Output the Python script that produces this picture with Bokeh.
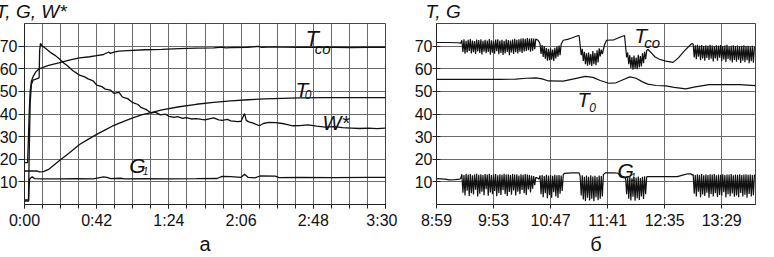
import numpy as np
from bokeh.plotting import figure
from bokeh.layouts import row
from bokeh.models import FixedTicker, Label, Range1d
from bokeh.embed import file_html
from bokeh.resources import INLINE

FONT = "Liberation Sans"
INK = "#111111"
GRID = "#6a6a6a"

# ---------------- panel a (time in minutes from 0:00) ----------------
xa_ticks = [0, 42, 84, 126, 168, 210]
xa_labels = ["0:00", "0:42", "1:24", "2:06", "2:48", "3:30"]
xa_minor = [0, 10.5, 21, 31.5, 42, 52.5, 63, 73.5, 84, 94.5, 105, 115.5, 126,
            136.5, 147, 157.5, 168, 178.5, 189, 199.5, 210]
y_ticks = [10, 20, 30, 40, 50, 60, 70]

tco_a_t = [0, 1.8, 2.3, 2.8, 3.3, 4.0, 5.0, 6.5, 8, 10, 14, 20, 26, 32, 38, 42, 46, 49, 50, 52,
           55, 60, 70, 80, 90, 100, 110, 115, 117, 120, 130, 136, 138, 145, 150, 160, 170, 180,
           190, 200, 210]
tco_a_v = [18.5, 18.5, 30, 42, 50, 54.5, 56.5, 58.5, 59.7, 60.4, 61.5, 62.6, 63.8, 64.8, 65.3,
           65.8, 66.3, 67.4, 66.8, 67.3, 67.8, 68.0, 68.4, 68.6, 68.9, 69.1, 69.2, 69.6, 69.2,
           69.3, 69.5, 69.9, 69.5, 69.7, 69.6, 69.5, 69.5, 69.5, 69.4, 69.5, 69.5]

w_a_t = [0, 2.3, 2.8, 3.3, 4.0, 5.0, 7.0, 8.5, 8.8, 9.3, 10, 12, 15.5, 18, 20, 23, 25, 28, 32, 35,
         37, 40, 42, 45, 47, 50, 52, 55, 57, 60, 63, 66, 68, 71, 73.6, 76, 79, 82, 84, 87, 89, 92,
         94, 97, 100, 103, 105, 108, 110, 113, 115, 118, 120, 124, 126, 128, 129, 130.5, 133,
         136.6, 139, 142, 146, 150, 153, 156, 160, 165, 170, 175, 180, 185, 190, 195, 200, 205,
         210]
w_a_v = [2.0, 2.0, 25, 45, 53, 55, 55.5, 56, 68, 71.2, 70.3, 69.2, 67.0, 65.8, 64.5, 62.4, 61.3,
         59.2, 57.2, 56.4, 55.5, 54.6, 52.8, 52.1, 51.0, 50.6, 49.1, 49.6, 47.5, 46.8, 45.0,
         44.2, 42.8, 41.9, 40.4, 40.8, 39.6, 39.9, 39.0, 38.5, 38.8, 38.1, 38.4, 37.8, 38.0,
         37.6, 37.4, 38.0, 38.3, 37.4, 37.2, 37.6, 37.0, 36.6, 36.8, 40.2, 37.2, 36.5, 36.0,
         34.8, 35.8, 36.3, 36.2, 35.8, 35.3, 34.8, 34.9, 35.2, 34.6, 34.2, 34.4, 34.0, 33.8,
         33.6, 33.8, 33.5, 33.8]

t0_a_t = [0, 7.5, 8.5, 11, 14, 20, 26, 32, 37, 42, 47, 51, 57, 63, 68, 73, 80, 90, 100, 110,
          120, 130, 140, 150, 160, 175, 210]
t0_a_v = [14.8, 14.8, 14.4, 14.5, 15.5, 19.2, 22.8, 26.5, 28.8, 31.0, 33.0, 34.6, 36.5, 38.3,
          39.6, 40.5, 41.8, 43.2, 44.3, 45.1, 45.8, 46.3, 46.7, 46.9, 47.1, 47.2, 47.2]

g1_a_t = [0, 2.4, 2.7, 3.0, 4.5, 6, 10, 20, 30, 40, 46, 48, 50, 56, 58, 70, 85, 100, 112, 115,
          120, 126, 128, 130, 134, 137, 146, 148, 160, 180, 200, 210]
g1_a_v = [1.5, 1.5, 8, 11.4, 12.2, 11.4, 11.3, 11.3, 11.4, 11.3, 12.2, 12.0, 11.4, 11.6, 11.3,
          11.4, 11.3, 11.4, 11.5, 12.4, 12.3, 12.0, 13.4, 12.0, 11.8, 12.6, 12.5, 11.9, 12.0,
          11.9, 12.0, 12.0]

# ---------------- panel б (minutes since 8:59) ----------------
xb_ticks = [0, 54, 108, 162, 216, 270]
xb_labels = ["8:59", "9:53", "10:47", "11:41", "12:35", "13:29"]

# T_co: smooth stretches (time, value) and oscillating stretches (1-min samples)
tco_b_line1 = ([0, 10, 20, 23], [71.6, 71.6, 71.5, 71.3])
tco_b_osc1 = [72.6, 67.4, 73.0, 66.6, 72.4, 67.2, 72.8, 67.9, 73.1, 66.8, 72.5, 67.3, 72.2, 66.5,
              72.9, 67.7, 72.7, 67.0, 73.0, 66.3, 72.4, 67.5, 72.8, 66.9, 72.5, 67.4, 73.1, 66.2,
              72.6, 67.1, 72.3, 66.6, 72.9, 67.8, 73.0, 66.4, 72.5, 67.0, 72.8, 66.1, 72.4, 66.8,
              73.0, 67.4, 72.7, 66.0, 72.5, 67.2, 72.9, 66.5, 73.2, 67.3, 72.8, 66.8, 73.0, 67.5,
              73.3, 67.0, 73.5, 67.6, 73.2, 67.9, 73.6, 68.2, 73.4, 67.5, 73.5, 68.0, 73.3, 68.6]
tco_b_line2 = ([94, 96, 97], [73.2, 72.6, 72.0])
tco_b_osc2 = [71.0, 66.5, 70.5, 65.2, 70.0, 64.4, 69.2, 63.6, 68.8, 63.8, 69.0, 64.0, 68.5, 63.5,
              69.3, 64.6, 69.8, 65.3, 70.2, 66.0]
tco_b_line3 = ([118, 120, 124, 128, 133, 135], [70.8, 72.6, 73.0, 73.6, 74.5, 74.7])
tco_b_osc3 = [70.5, 66.0, 68.8, 63.5, 67.5, 62.0, 66.8, 61.4, 67.2, 61.8, 66.5, 61.2, 67.8, 62.0,
              66.9, 61.6, 68.2, 62.8, 69.0, 65.5, 68.5, 66.5]
tco_b_line4 = ([159, 161, 168, 173, 178], [70.5, 72.6, 72.8, 73.8, 74.7])
tco_b_osc4 = [70.0, 65.0, 67.2, 62.0, 66.0, 60.4, 65.2, 59.6, 65.8, 60.0, 65.0, 59.8, 66.2, 60.6,
              65.6, 61.0, 66.8, 62.5, 67.5, 64.2]
tco_b_line5 = ([199, 200, 203, 207, 211, 217, 224, 229, 234, 240, 242],
               [68.0, 68.6, 67.2, 65.2, 64.2, 63.4, 62.8, 64.8, 67.6, 70.4, 71.2])
tco_b_osc5 = [70.8, 65.0, 70.4, 64.2, 70.6, 65.3, 70.2, 63.8, 70.5, 64.6, 70.0, 63.5, 70.4, 64.8,
              70.1, 63.9, 70.6, 64.4, 70.3, 63.2, 69.9, 64.5, 70.4, 63.6, 70.2, 64.9, 70.5, 63.4,
              70.0, 64.1, 70.3, 63.0, 70.6, 64.3, 69.8, 63.7, 70.2, 62.8, 70.4, 63.9, 70.0, 63.1,
              70.3, 64.0, 69.9, 62.6, 70.2, 63.5, 70.4, 62.9, 70.0, 63.8, 70.2, 62.5, 69.8, 63.3,
              70.1, 62.7, 69.7]
tco_b_osc_starts = [24, 98, 136, 179, 243]

g1_b_line1 = ([0, 8, 12, 18, 22, 23], [11.4, 11.2, 10.9, 11.0, 11.2, 11.6])
g1_b_osc1 = [13.4, 5.2, 13.0, 4.0, 13.6, 6.1, 13.2, 3.8, 13.5, 5.0, 12.9, 4.4, 13.3, 6.5, 13.6, 3.6,
             13.1, 4.8, 13.4, 5.6, 13.0, 4.1, 13.5, 6.8, 13.2, 3.9, 13.6, 5.3, 13.0, 4.5, 13.3, 6.0,
             13.5, 3.7, 12.9, 5.1, 13.4, 4.2, 13.1, 6.3, 13.6, 4.6, 13.2, 3.8, 13.4, 5.5, 13.0, 4.3,
             13.5, 6.2, 13.2, 4.0, 13.3, 5.7, 12.8, 4.6, 13.4, 6.4, 13.1, 5.0, 13.5, 4.2, 13.2, 6.6,
             13.0, 5.3, 12.8, 7.0, 12.6, 8.5]
g1_b_line2 = ([94, 96, 97], [12.0, 11.6, 11.2])
g1_b_osc2 = [12.8, 4.5, 13.0, 3.2, 12.6, 5.0, 13.1, 2.8, 12.8, 4.2, 13.0, 3.0, 12.7, 5.4, 13.1, 3.6,
             12.9, 2.9, 13.0, 4.8, 12.8, 6.0]
g1_b_line3 = ([120, 121, 128, 135], [13.2, 13.8, 14.0, 14.0])
g1_b_osc3 = [12.5, 4.0, 12.9, 2.2, 12.3, 1.6, 12.8, 3.0, 12.2, 1.8, 12.9, 2.5, 12.4, 1.5, 12.7, 3.2,
             12.1, 1.9, 12.8, 2.6, 12.6, 3.5]
g1_b_line4 = ([158, 160, 168, 172, 174, 178], [13.2, 14.0, 14.0, 13.8, 12.2, 11.8])
g1_b_osc4 = [12.0, 4.5, 11.8, 2.5, 12.3, 1.8, 11.6, 3.4, 12.1, 1.7, 11.9, 2.8, 12.4, 2.0, 11.7, 3.6,
             12.2, 2.4, 12.5, 4.5]
g1_b_line5 = ([199, 200, 215, 228, 233, 238, 241, 242], [12.2, 12.3, 12.3, 12.3, 13.0, 13.6, 13.5, 13.0])
g1_b_osc5 = [13.3, 4.8, 13.0, 3.5, 13.4, 5.6, 13.1, 3.2, 13.5, 4.4, 12.9, 3.8, 13.3, 5.2, 13.0, 3.0,
             13.4, 4.6, 13.2, 3.6, 13.5, 5.0, 12.9, 3.3, 13.3, 4.2, 13.1, 3.9, 13.4, 5.4, 13.0, 3.1,
             13.3, 4.5, 13.2, 3.7, 13.5, 4.9, 12.9, 3.4, 13.3, 4.0, 13.1, 3.2, 13.4, 5.1, 13.0, 3.6,
             13.2, 4.3, 13.4, 3.0, 13.1, 4.7, 13.3, 3.5, 13.0, 4.1, 13.2]
g1_b_osc_starts = [24, 98, 136, 179, 243]

t0_b_t = [0, 60, 75, 85, 94, 100, 106, 120, 130, 141, 148, 155, 163, 170, 176, 183, 189, 195,
          200, 208, 217, 225, 236, 245, 258, 287, 302]
t0_b_v = [55.3, 55.3, 55.4, 55.8, 56.0, 55.5, 54.6, 54.5, 55.5, 56.6, 56.2, 54.8, 53.6, 53.8,
          55.0, 56.4, 55.8, 54.2, 53.2, 52.6, 52.4, 51.8, 51.1, 52.0, 53.0, 53.0, 52.5]


def assemble(lines, oscs, starts):
    ts, vs = [], []
    for ln, osc, st in zip(lines, oscs, starts):
        ts += list(ln[0]); vs += list(ln[1])
        ts += [st + i for i in range(len(osc))]; vs += list(osc)
    return ts, vs


tco_b_t, tco_b_v = assemble(
    [tco_b_line1, tco_b_line2, tco_b_line3, tco_b_line4, tco_b_line5],
    [tco_b_osc1, tco_b_osc2, tco_b_osc3, tco_b_osc4, tco_b_osc5], tco_b_osc_starts)
g1_b_t, g1_b_v = assemble(
    [g1_b_line1, g1_b_line2, g1_b_line3, g1_b_line4, g1_b_line5],
    [g1_b_osc1, g1_b_osc2, g1_b_osc3, g1_b_osc4, g1_b_osc5], g1_b_osc_starts)


def make_fig(width, xmax, bl, br, title, toff):
    p = figure(width=width, height=257, x_range=Range1d(0, xmax), y_range=Range1d(0, 80),
               output_backend="svg", toolbar_location=None,
               min_border_left=bl, min_border_right=br, min_border_top=23, min_border_bottom=51,
               title=title)
    p.title.text_font = FONT
    p.title.text_font_style = "italic"
    p.title.text_font_size = "19px"
    p.title.text_color = INK
    p.title.align = "left"
    p.title.vertical_align = "top"
    p.title.offset = toff
    p.title.standoff = 0
    p.background_fill_color = "white"
    p.border_fill_color = "white"
    p.outline_line_color = "#444444"
    p.outline_line_width = 1
    for ax in (p.xaxis[0], p.yaxis[0]):
        ax.axis_line_color = "#222222"
        ax.major_tick_line_color = "#222222"
        ax.minor_tick_line_color = "#222222"
        ax.major_label_text_font = FONT
        ax.major_label_text_font_size = "16px"
        ax.major_label_text_color = INK
    p.yaxis.ticker = FixedTicker(ticks=y_ticks)
    p.yaxis.minor_tick_line_color = None
    p.xaxis.major_tick_in = 0
    p.xaxis.major_tick_out = 4
    p.xaxis.major_label_standoff = 3
    p.xaxis.axis_label_text_font = FONT
    p.xaxis.axis_label_text_font_style = "normal"
    p.xaxis.axis_label_text_font_size = "20px"
    p.xaxis.axis_label_text_color = INK
    p.xaxis.axis_label_standoff = 1
    p.xgrid.grid_line_color = GRID
    p.ygrid.grid_line_color = GRID
    return p


def lab(p, x, y, text, size):
    p.add_layout(Label(x=x, y=y, text=text, text_font=FONT, text_font_style="italic",
                       text_font_size=size, text_color=INK, text_baseline="alphabetic"))


# ---- left panel ----
p1 = make_fig(405, 210, 32, 12, "T, G, W*", -29)
p1.xaxis.ticker = FixedTicker(ticks=xa_ticks, minor_ticks=xa_minor)
p1.xaxis.major_label_overrides = {t: s for t, s in zip(xa_ticks, xa_labels)}
p1.xaxis.minor_tick_in = 0
p1.xaxis.minor_tick_out = 4
p1.xgrid.minor_grid_line_color = GRID
p1.xaxis.axis_label = "а"
p1.yaxis.major_tick_in = 0
p1.yaxis.major_tick_out = 6
p1.yaxis.major_label_standoff = 1

for xs, ys in ((tco_a_t, tco_a_v), (w_a_t, w_a_v), (t0_a_t, t0_a_v), (g1_a_t, g1_a_v)):
    p1.line(xs, ys, line_color=INK, line_width=1.3)

lab(p1, 163.5, 73.3, "T", "22px")
lab(p1, 168.8, 69.1, "co", "15px")
lab(p1, 157.7, 50.7, "T", "21px")
lab(p1, 163.0, 48.5, "0", "12px")
lab(p1, 173.4, 36.2, "W*", "20px")
lab(p1, 60.9, 17.2, "G", "21px")
lab(p1, 68.8, 15.0, "1", "10px")

# ---- right panel ----
p2 = make_fig(369, 302, 39, 11, "T, G", -11)
p2.xaxis.ticker = FixedTicker(ticks=xb_ticks)
p2.xaxis.major_label_overrides = {t: s for t, s in zip(xb_ticks, xb_labels)}
p2.xaxis.minor_tick_line_color = None
p2.xaxis.axis_label = "б"
p2.yaxis.major_tick_in = 4
p2.yaxis.major_tick_out = 4
p2.yaxis.major_label_standoff = 0

for xs, ys in ((tco_b_t, tco_b_v), (t0_b_t, t0_b_v), (g1_b_t, g1_b_v)):
    p2.line(xs, ys, line_color=INK, line_width=1.2)

lab(p2, 187.2, 74.7, "T", "21px")
lab(p2, 196.6, 71.8, "co", "15px")
lab(p2, 133.5, 46.3, "T", "20px")
lab(p2, 144.6, 42.7, "0", "12px")
lab(p2, 171.4, 15.0, "G", "21px")
lab(p2, 183.7, 12.1, "1", "10px")

layout = row(p1, p2, spacing=0, margin=(0, 0, 0, -8))
open("out.html", "w").write(file_html(layout, INLINE))
